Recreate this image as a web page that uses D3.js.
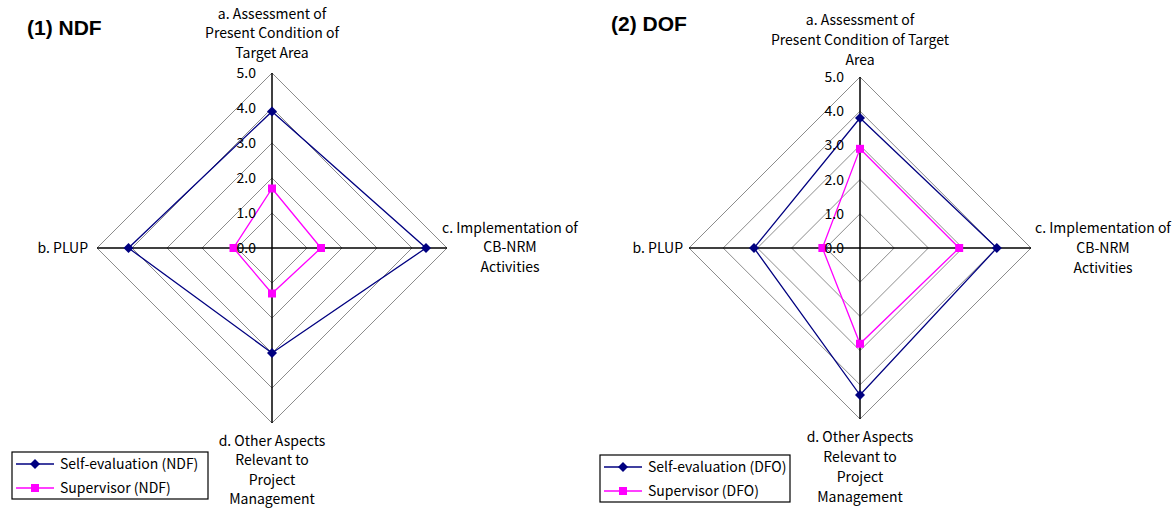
<!DOCTYPE html>
<html>
<head>
<meta charset="utf-8">
<script src="https://cdn.jsdelivr.net/npm/d3@7"></script>
<style>
body { margin: 0; background: #fff; }
text { font-family: "Noto Sans CJK JP", "Liberation Sans", sans-serif; font-size: 14px; fill: #000; }
.tick { font-size: 14px; }
.title { font-family: "Liberation Sans", Arial, sans-serif; font-weight: bold; font-size: 21px; }
</style>
</head>
<body>
<script>
// categories in order a, b, c, d
const categoryKeys = ["a", "b", "c", "d"];
const ndfLabels = [
  ["a. Assessment of", "Present Condition of", "Target Area"],
  ["b. PLUP"],
  ["c. Implementation of", "CB-NRM", "Activities"],
  ["d. Other Aspects", "Relevant to", "Project", "Management"]
];
const dofLabels = [
  ["a. Assessment of", "Present Condition of Target", "Area"],
  ["b. PLUP"],
  ["c. Implementation of", "CB-NRM", "Activities"],
  ["d. Other Aspects", "Relevant to", "Project", "Management"]
];
const tickValues = [0, 1, 2, 3, 4, 5];

// values a, b, c, d
const ndfSelf = [3.9, 4.1, 4.4, 3.0];
const ndfSupervisor = [1.7, 1.1, 1.4, 1.3];
const dofSelf = [3.8, 3.1, 4.0, 4.3];
const dofSupervisor = [2.9, 1.1, 2.9, 2.8];

const width = 1174, height = 510;
const svg = d3.select("body").append("svg")
  .attr("width", width)
  .attr("height", height);

// angle of each category axis: a up, b left, c right, d down
const angles = { a: -Math.PI / 2, b: Math.PI, c: 0, d: Math.PI / 2 };

function drawRadar(opt) {
  const g = svg.append("g").attr("transform", `translate(${opt.cx},${opt.cy})`);
  const r = d3.scaleLinear().domain([0, 5]).range([0, opt.radius]);
  const pt = (k, v) => [Math.cos(angles[k]) * r(v), Math.sin(angles[k]) * r(v)];
  const order = ["a", "c", "d", "b"];
  const line = d3.line();

  // grid rings
  g.selectAll(".ring").data(tickValues.filter(d => d > 0)).enter()
    .append("path")
    .attr("d", v => line(order.map(k => pt(k, v))) + "Z")
    .attr("fill", "none")
    .attr("stroke", "#8c8c8c")
    .attr("stroke-width", 1);

  // axes
  categoryKeys.forEach(k => {
    const p = pt(k, 5);
    g.append("line").attr("x1", 0).attr("y1", 0).attr("x2", p[0]).attr("y2", p[1])
      .attr("stroke", "#000").attr("stroke-width", 1.5);
  });

  // series (diamond = rotated square)
  const series = [
    { values: opt.supervisor, color: "#ff00ff", size: 64, rot: 0 },
    { values: opt.self, color: "#000080", size: 50, rot: 45 }
  ];
  series.forEach(s => {
    const pts = order.map(k => pt(k, s.values[categoryKeys.indexOf(k)]));
    g.append("path").attr("d", line(pts) + "Z")
      .attr("fill", "none").attr("stroke", s.color).attr("stroke-width", 1.3);
    g.selectAll(null).data(pts).enter().append("path")
      .attr("transform", d => `translate(${d[0]},${d[1]}) rotate(${s.rot})`)
      .attr("d", d3.symbol().type(d3.symbolSquare).size(s.size))
      .attr("fill", s.color);
  });

  // tick labels
  g.selectAll(".tick").data(tickValues).enter().append("text")
    .attr("class", "tick")
    .attr("x", -16)
    .attr("y", v => -r(v))
    .attr("dy", "0.35em")
    .attr("text-anchor", "end")
    .text(v => v.toFixed(1));

  // category labels
  categoryKeys.forEach((k, i) => {
    const lp = opt.labelPos[i];
    const t = g.append("text")
      .attr("text-anchor", lp.anchor)
      .attr("transform", `translate(${lp.x},${lp.y})`);
    opt.labels[i].forEach((s, j) => {
      t.append("tspan").attr("x", 0).attr("y", j * opt.lineH).attr("dy", "0.35em").text(s);
    });
  });

  // title
  svg.append("text").attr("class", "title")
    .attr("x", opt.title.x).attr("y", opt.title.y)
    .text(opt.title.text);

  // legend
  const lg = svg.append("g").attr("transform", `translate(${opt.legend.x},${opt.legend.y})`);
  lg.append("rect").attr("width", opt.legend.w).attr("height", 47)
    .attr("fill", "#fff").attr("stroke", "#000").attr("stroke-width", 1.2);
  [series[1], series[0]].forEach((s, i) => {
    const y = 12 + i * 24;
    lg.append("line").attr("x1", 4).attr("x2", 42).attr("y1", y).attr("y2", y)
      .attr("stroke", s.color).attr("stroke-width", 1.3);
    lg.append("path").attr("transform", `translate(23,${y}) rotate(${s.rot})`)
      .attr("d", d3.symbol().type(d3.symbolSquare).size(s.size)).attr("fill", s.color);
    lg.append("text").attr("x", 48).attr("y", y).attr("dy", "0.35em")
      .text(opt.legendNames[i]);
  });
}

drawRadar({
  cx: 272, cy: 248, radius: 175,
  self: ndfSelf, supervisor: ndfSupervisor,
  labels: ndfLabels, lineH: 19.5,
  labelPos: [
    { x: 0, y: -234, anchor: "middle" },
    { x: -184, y: 0, anchor: "end" },
    { x: 238, y: -20, anchor: "middle" },
    { x: 0, y: 193, anchor: "middle" }
  ],
  title: { x: 27, y: 35, text: "(1) NDF" },
  legend: { x: 12, y: 452, w: 196 },
  legendNames: ["Self-evaluation (NDF)", "Supervisor (NDF)"]
});

drawRadar({
  cx: 860, cy: 248, radius: 171,
  self: dofSelf, supervisor: dofSupervisor,
  labels: dofLabels, lineH: 20,
  labelPos: [
    { x: 0, y: -228, anchor: "middle" },
    { x: -177, y: 0, anchor: "end" },
    { x: 243, y: -20, anchor: "middle" },
    { x: 0, y: 189, anchor: "middle" }
  ],
  title: { x: 611, y: 31, text: "(2) DOF" },
  legend: { x: 600, y: 455, w: 190 },
  legendNames: ["Self-evaluation (DFO)", "Supervisor (DFO)"]
});
</script>
</body>
</html>
